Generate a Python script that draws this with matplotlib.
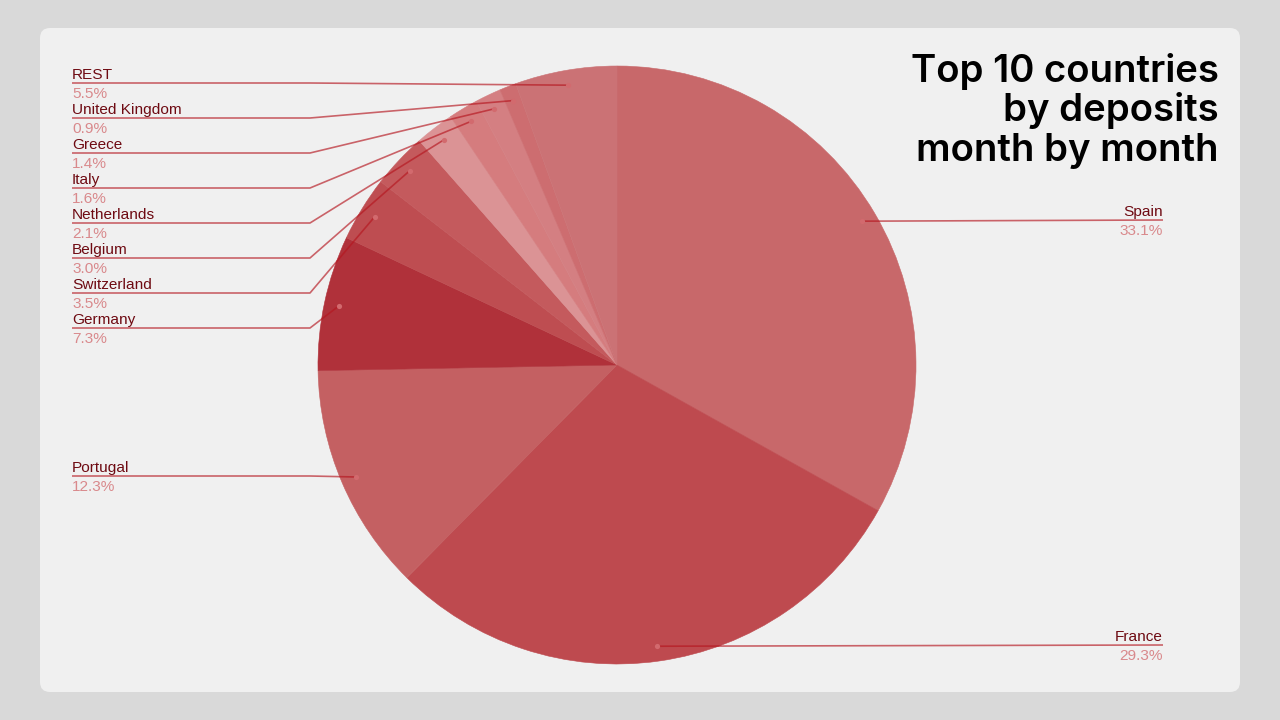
import matplotlib
matplotlib.use("Agg")
import matplotlib.pyplot as plt
from matplotlib.patches import FancyBboxPatch
import numpy as np

# ---- data ----
countries = ["Spain", "France", "Portugal", "Germany", "Switzerland", "Belgium",
             "Netherlands", "Italy", "Greece", "United Kingdom", "REST"]
shares = [33.1, 29.3, 12.3, 7.3, 3.5, 3.0, 2.1, 1.6, 1.4, 0.9, 5.5]
pct_labels = ["33.1%", "29.3%", "12.3%", "7.3%", "3.5%", "3.0%", "2.1%",
              "1.6%", "1.4%", "0.9%", "5.5%"]
slice_colors = ["#C8686A", "#BE4A4F", "#C46062", "#B0313A", "#BE4D51", "#C45A5D",
                "#DB9395", "#D57C7E", "#D47F82", "#CD6D70", "#CB7275"]
title_lines = ["Top 10 countries", "by deposits", "month by month"]

# label placement (pixel layout)
left_order = ["REST", "United Kingdom", "Greece", "Italy", "Netherlands",
              "Belgium", "Switzerland", "Germany"]

W, H = 1280, 720
fig = plt.figure(figsize=(12.8, 7.2), dpi=100)
fig.patch.set_facecolor("#D9D9D9")
ax = fig.add_axes([0, 0, 1, 1])


def Y(y):
    return H - y


# card
card = FancyBboxPatch((40, Y(692)), 1200, 664,
                      boxstyle="round,pad=0,rounding_size=10",
                      facecolor="#F0F0F0", edgecolor="none", zorder=0)
ax.add_patch(card)

cx, cy, R = 617, Y(365), 299
wedges, _ = ax.pie(shares, colors=slice_colors, startangle=90,
                   counterclock=False, center=(cx, cy), radius=R,
                   wedgeprops=dict(linewidth=0.4))
for w, c in zip(wedges, slice_colors):
    w.set_edgecolor(c)
    w.set_zorder(1)

ax.set_xlim(0, W)
ax.set_ylim(0, H)
ax.set_aspect("auto")
ax.axis("off")

line_col = "#B5161F"
name_col = "#6E0A12"
pct_col = "#D9898C"
font = ["Liberation Sans", "DejaVu Sans"]
fs = 11.1


def anchor(i):
    w = wedges[i]
    m = np.deg2rad((w.theta1 + w.theta2) / 2)
    return cx + 0.95 * R * np.cos(m), cy + 0.95 * R * np.sin(m)


def draw_label(i, ly, side):
    axx, ayy = anchor(i)
    if side == "left":
        xs = [72, 310, axx]
        ys = [Y(ly), Y(ly), ayy]
        tx, ha = 72, "left"
    else:
        xs = [1163, axx]
        ys = [Y(ly), ayy]
        tx, ha = 1163, "right"
    ax.plot(xs, ys, color=line_col, lw=1.2, zorder=10, alpha=0.65,
            solid_capstyle="butt")
    ax.scatter([axx], [ayy], s=14, color="#D26A6E", zorder=11, linewidths=0)
    ax.text(tx, Y(ly - 4), countries[i], color=name_col, fontsize=fs,
            family=font, ha=ha, va="baseline", zorder=12)
    ax.text(tx, Y(ly + 15), pct_labels[i], color=pct_col, fontsize=fs,
            family=font, ha=ha, va="baseline", zorder=12)


for k, name in enumerate(left_order):
    draw_label(countries.index(name), 83 + 35 * k, "left")
draw_label(countries.index("Portugal"), 476, "left")
draw_label(countries.index("Spain"), 220, "right")
draw_label(countries.index("France"), 645, "right")

for line, base in zip(title_lines, [82, 121, 161]):
    ax.text(1219, Y(base), line, fontsize=27.6, family=["Inter", "DejaVu Sans"],
            fontweight="semibold", color="#000000", ha="right", va="baseline",
            zorder=12)

fig.savefig("out.png", dpi=100, facecolor=fig.get_facecolor())
